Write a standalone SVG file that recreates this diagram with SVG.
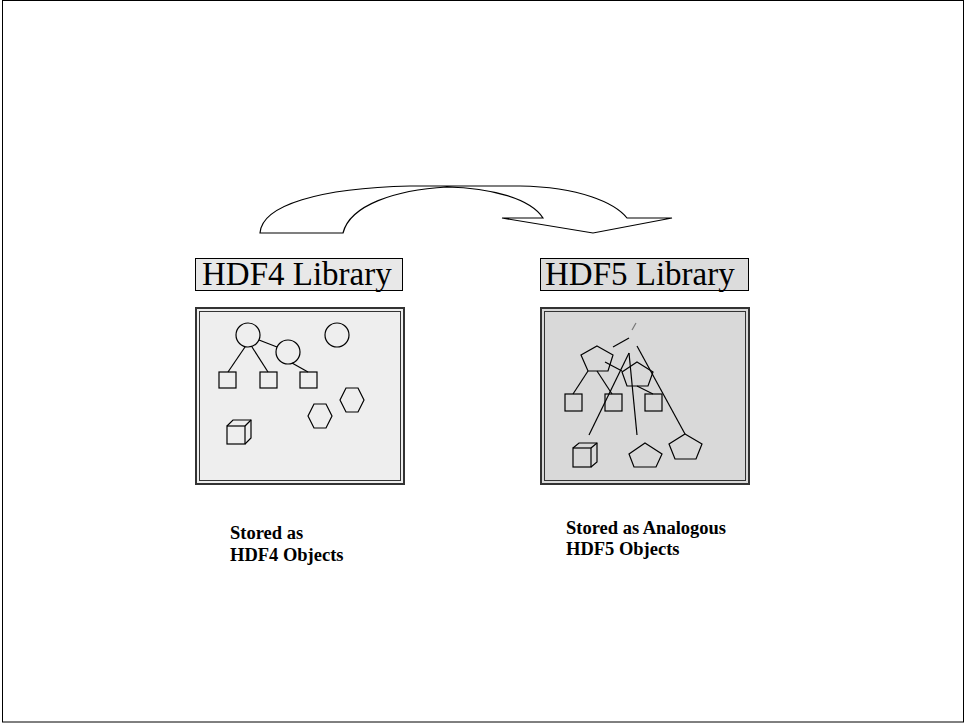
<svg xmlns="http://www.w3.org/2000/svg" width="964" height="723" viewBox="0 0 964 723">
<style>
.ln{stroke:#000;stroke-width:1.2;fill:none}
.sh{stroke:#000;stroke-width:1.2;fill:none}
.lbl{font-family:"Liberation Serif","Times New Roman",serif;font-size:33px;fill:#000}
.cap{font-family:"Liberation Serif","Times New Roman",serif;font-size:18.5px;font-weight:bold;fill:#000}
</style>
<rect x="2.5" y="0.5" width="961" height="721.5" fill="#fff" stroke="#000" stroke-width="1"/>
<g id="arrow">
<path d="M260,233 C262,205 320,188 410,186 L520,186 C580,187 615,203 627,218 L672,218 L593,233 L502,218 L543,218 C530,198 490,188 447,187 C395,190 350,205 343,233 Z" fill="#fff" stroke="#000" stroke-width="1.2"/>
</g>
<g id="hdf4-label">
<rect x="195.5" y="258.5" width="207" height="32" fill="#e8e8e8" stroke="#000" stroke-width="1"/>
<text class="lbl" x="202" y="285">HDF4 Library</text>
</g>
<g id="hdf5-label">
<rect x="540.5" y="258.5" width="208" height="32" fill="#dcdcdc" stroke="#000" stroke-width="1"/>
<text class="lbl" x="545" y="285">HDF5 Library</text>
</g>
<g id="hdf4-panel">
<rect x="196" y="308" width="208" height="176" fill="#eeeeee" stroke="#333" stroke-width="2"/>
<rect x="199.5" y="311.5" width="201" height="169" fill="none" stroke="#333" stroke-width="1"/>
<circle class="sh" cx="248" cy="335" r="12"/>
<circle class="sh" cx="288" cy="352" r="12"/>
<circle class="sh" cx="337" cy="335" r="12"/>
<line class="ln" x1="259" y1="340" x2="277" y2="347"/>
<line class="ln" x1="245" y1="347" x2="228" y2="372"/>
<line class="ln" x1="252" y1="347" x2="268" y2="372"/>
<line class="ln" x1="292" y1="363" x2="308" y2="372"/>
<rect class="sh" x="219" y="372" width="17" height="16"/>
<rect class="sh" x="260" y="372" width="17" height="16"/>
<rect class="sh" x="300" y="372" width="17" height="16"/>
<polygon class="sh" points="308,416 314,404 326,404 332,416 326,428 314,428"/>
<polygon class="sh" points="340,400 346,388 358,388 364,400 358,412 346,412"/>
<rect class="sh" x="227" y="426" width="18" height="18"/>
<polyline class="sh" points="227,426 233,420 251,420 251,438 245,444"/>
<line class="ln" x1="245" y1="426" x2="251" y2="420"/>
</g>
<g id="hdf5-panel">
<rect x="541" y="308" width="208" height="176" fill="#d9d9d9" stroke="#333" stroke-width="2"/>
<rect x="544.5" y="311.5" width="201" height="169" fill="none" stroke="#333" stroke-width="1"/>
<line x1="636" y1="323" x2="632" y2="330" stroke="#777" stroke-width="1.2"/>
<line class="ln" x1="613" y1="347" x2="629" y2="338"/>
<line class="ln" x1="637" y1="346" x2="685" y2="434"/>
<polygon class="sh" points="597,346 613,355 608,371 588,371 581,355"/>
<polygon class="sh" points="637,362 653,372 648,386 627,386 622,372"/>
<line class="ln" x1="605" y1="362" x2="622" y2="371"/>
<line class="ln" x1="629" y1="353" x2="637" y2="435"/>
<line class="ln" x1="629" y1="353" x2="589" y2="435"/>
<line class="ln" x1="588" y1="371" x2="573" y2="394"/>
<line class="ln" x1="597" y1="371" x2="612" y2="394"/>
<line class="ln" x1="637" y1="386" x2="653" y2="394"/>
<rect class="sh" x="565" y="394" width="17" height="17"/>
<rect class="sh" x="605" y="394" width="17" height="17"/>
<rect class="sh" x="645" y="394" width="17" height="17"/>
<rect class="sh" x="573" y="448" width="18" height="19"/>
<polyline class="sh" points="573,448 579,443 597,443 597,462 591,467"/>
<line class="ln" x1="591" y1="448" x2="597" y2="443"/>
<polygon class="sh" points="645,443 662,454 656,467 634,467 629,454"/>
<polygon class="sh" points="685,434 702,444 696,459 675,459 669,444"/>
</g>
<g id="captions">
<text class="cap" x="230" y="539">Stored as</text>
<text class="cap" x="230" y="561">HDF4 Objects</text>
<text class="cap" x="566" y="534">Stored as Analogous</text>
<text class="cap" x="566" y="555">HDF5 Objects</text>
</g>
</svg>
